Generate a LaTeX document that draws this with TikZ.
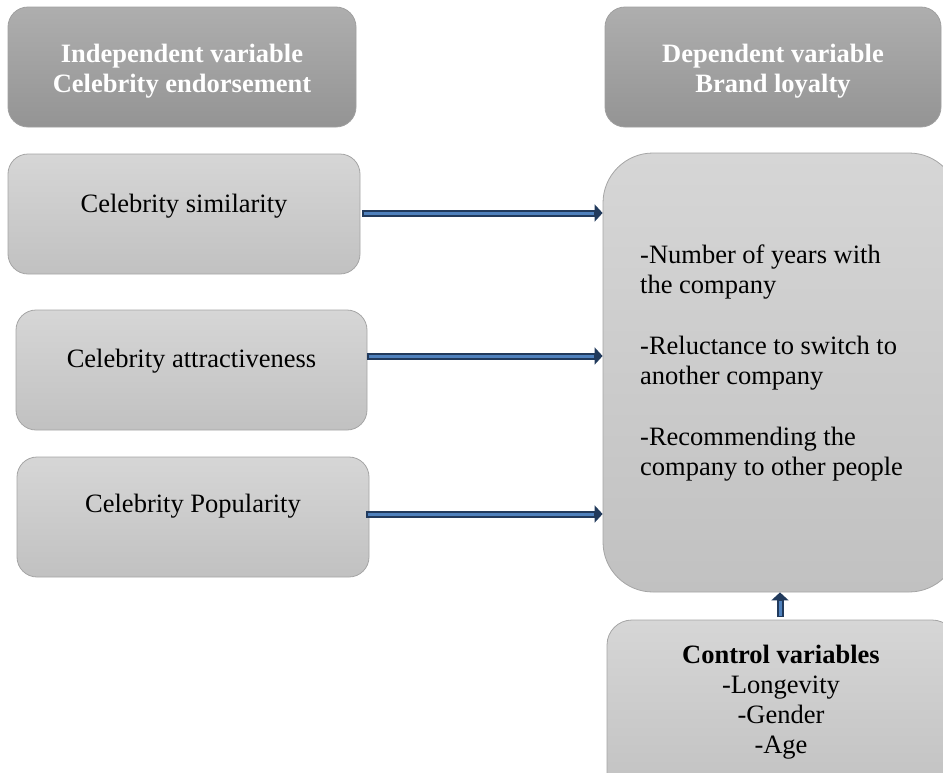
\documentclass[tikz,border=0pt]{standalone}
\usepackage{fontspec}
\setmainfont{Liberation Serif}
\usetikzlibrary{arrows.meta}
\definecolor{arrdark}{RGB}{33,58,92}
\definecolor{arrlight}{RGB}{79,129,189}
\definecolor{hdtop}{RGB}{174,174,174}
\definecolor{hdbot}{RGB}{148,148,148}
\definecolor{hdline}{RGB}{160,160,160}
\definecolor{bxtop}{RGB}{214,214,214}
\definecolor{bxbot}{RGB}{193,193,193}
\definecolor{bxline}{RGB}{165,165,165}
\begin{document}
\begin{tikzpicture}[x=1pt,y=-1pt,
  every node/.style={font=\fontsize{26.5}{30}\selectfont, inner sep=0pt},
  header/.style={draw=hdline, line width=0.8pt, rounded corners=20pt, top color=hdtop, bottom color=hdbot},
  factor/.style={draw=bxline, line width=0.8pt, rounded corners=20pt, top color=bxtop, bottom color=bxbot},
  hdtext/.style={text=white, font=\fontsize{26.5}{30}\selectfont\bfseries, align=center},
  bodytext/.style={text=black},
  blockarrow/.style={draw=arrdark, line width=7pt, -{Triangle[length=8pt,width=17pt]},
    postaction={draw=arrlight, line width=3pt, arrows=-, shorten >=9pt, shorten <=1.5pt}}
]
\useasboundingbox (0,0) rectangle (943,772);
\clip (0,0) rectangle (943,772);

% headers
\node[header, minimum width=348pt, minimum height=120pt] (h1) at (182,67) {};
\node[hdtext, anchor=base] (h1t) at (182,92) {Independent variable\\Celebrity endorsement};
\node[header, minimum width=336pt, minimum height=120pt] (h2) at (773,67) {};
\node[hdtext, anchor=base] (h2t) at (773,92) {Dependent variable\\Brand loyalty};

% factor boxes
\node[factor, minimum width=352pt, minimum height=120pt] (b1) at (184,214) {};
\node[bodytext, anchor=base] (b1t) at (184,212) {Celebrity similarity};
\node[factor, minimum width=351pt, minimum height=120pt] (b2) at (191.5,370) {};
\node[bodytext, anchor=base] (b2t) at (191.5,367) {Celebrity attractiveness};
\node[factor, minimum width=352pt, minimum height=120pt] (b3) at (193,517) {};
\node[bodytext, anchor=base] (b3t) at (193,512) {Celebrity Popularity};

% dependent box
\node[factor, rounded corners=50pt, minimum width=356pt, minimum height=439pt] (dep) at (781,372.5) {};
\node[bodytext, anchor=base west, align=left] (dept) at (640,475)
  {-Number of years with\\the company\\[31pt]-Reluctance to switch to\\another company\\[31pt]-Recommending the\\company to other people};

% control box
\node[factor, rounded corners=25pt, minimum width=350pt, minimum height=180pt] (ctrl) at (782,710) {};
\node[bodytext, anchor=base, align=center] (ctrlt) at (781,753)
  {\textbf{Control variables}\\-Longevity\\-Gender\\-Age};

% arrows
\coordinate (a1) at (362,213);
\coordinate (a2) at (367,356);
\coordinate (a3) at (366,514);
\draw[blockarrow] (a1) -- (dep.west |- a1);
\draw[blockarrow] (a2) -- (dep.west |- a2);
\draw[blockarrow] (a3) -- (dep.west |- a3);
\coordinate (up0) at (780,617);
\draw[blockarrow] (up0) -- (up0 |- dep.south);
\end{tikzpicture}
\end{document}
